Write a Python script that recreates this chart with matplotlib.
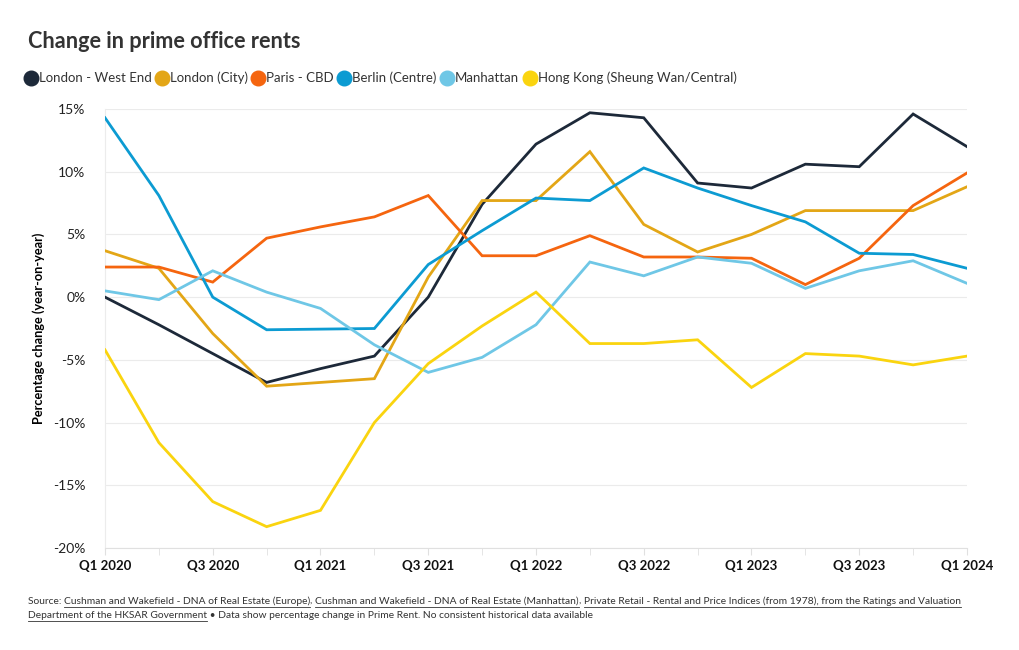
import matplotlib
matplotlib.use("Agg")
import matplotlib.pyplot as plt
from matplotlib.lines import Line2D

quarters = ["Q1 2020", "Q2 2020", "Q3 2020", "Q4 2020", "Q1 2021", "Q2 2021", "Q3 2021", "Q4 2021",
            "Q1 2022", "Q2 2022", "Q3 2022", "Q4 2022", "Q1 2023", "Q2 2023", "Q3 2023", "Q4 2023", "Q1 2024"]

london_west_end = [0.0, -2.2, -4.5, -6.8, -5.7, -4.7, 0.0, 7.4, 12.2, 14.7, 14.3, 9.1, 8.7, 10.6, 10.4, 14.6, 12.0]
london_city = [3.7, 2.3, -2.9, -7.1, -6.8, -6.5, 1.6, 7.7, 7.7, 11.6, 5.8, 3.6, 5.0, 6.9, 6.9, 6.9, 8.8]
paris_cbd = [2.4, 2.4, 1.2, 4.7, 5.6, 6.4, 8.1, 3.3, 3.3, 4.9, 3.2, 3.2, 3.1, 1.0, 3.1, 7.3, 9.9]
berlin = [14.3, 8.1, 0.0, -2.6, -2.55, -2.5, 2.6, 5.3, 7.9, 7.7, 10.3, 8.7, 7.3, 6.0, 3.5, 3.4, 2.3]
manhattan = [0.5, -0.2, 2.1, 0.4, -0.9, -3.8, -6.0, -4.8, -2.2, 2.8, 1.7, 3.2, 2.7, 0.7, 2.1, 2.9, 1.1]
hong_kong = [-4.2, -11.6, -16.3, -18.3, -17.0, -10.0, -5.3, -2.3, 0.4, -3.7, -3.7, -3.4, -7.2, -4.5, -4.7, -5.4, -4.7]

series_names = ["London - West End", "London (City)", "Paris - CBD", "Berlin (Centre)", "Manhattan",
                "Hong Kong (Sheung Wan/Central)"]
series_values = [london_west_end, london_city, paris_cbd, berlin, manhattan, hong_kong]
colors = ["#1d2939", "#e3a616", "#f5650f", "#0c9bd2", "#6fc7e6", "#fad40f"]

y_ticks = [-20, -15, -10, -5, 0, 5, 10, 15]
y_tick_labels = ["-20%", "-15%", "-10%", "-5%", "0%", "5%", "10%", "15%"]

FONT = "Lato"
plt.rcParams["font.family"] = [FONT, "DejaVu Sans"]

fig = plt.figure(figsize=(10.2, 6.5), dpi=100)
W, H = 1020, 650
ax = fig.add_axes([105 / W, 1 - 548 / H, (967 - 105) / W, (548 - 109) / H])

x = list(range(len(quarters)))
for vals, c in zip(series_values, colors):
    ax.plot(x, vals, color=c, lw=2.0, solid_joinstyle="miter", zorder=3)

ax.set_xlim(0, len(quarters) - 1)
ax.set_ylim(-20, 15)
ax.set_yticks(y_ticks)
ax.set_yticklabels(y_tick_labels, fontsize=10, color="#222222")
ax.set_xticks(x[::2])
ax.set_xticklabels(quarters[::2], fontsize=9.5, fontweight="bold", color="#111111")
ax.set_xticks(x, minor=True)
ax.tick_params(axis="y", length=0, pad=14)
ax.tick_params(axis="x", which="both", length=5, color="#e0e0e0", pad=4)
ax.grid(axis="y", color="#ebebeb", lw=0.8)
ax.grid(axis="x", which="major", visible=False)
for s in ["top", "right"]:
    ax.spines[s].set_visible(False)
ax.spines["left"].set_color("#ececec")
ax.spines["bottom"].set_color("#e0e0e0")
ax.set_axisbelow(True)
ax.set_ylabel("Percentage change (year-on-year)", fontsize=9.2, fontweight="bold", labelpad=10)
ax.yaxis.set_label_coords(-60 / 862, 0.5)

fig.text(28 / W, 1 - 42 / H, "Change in prime office rents", fontsize=15.6, fontweight="bold",
         color="#333333", va="center", ha="left")

handles = [Line2D([], [], marker="o", ls="none", markersize=10.5, color=c) for c in colors]
fig.legend(handles, series_names, loc="center left", bbox_to_anchor=(24 / W, 1 - 78 / H), ncol=6,
           frameon=False, fontsize=9.5, handletextpad=0.1, columnspacing=0.3, handlelength=1.0,
           borderaxespad=0, borderpad=0, labelcolor="#333333")

# footer with underlined source links
fig.canvas.draw()
renderer = fig.canvas.get_renderer()
fs = 7.4
col = "#333333"
lines = [
    [("Source: ", False), ("Cushman and Wakefield - DNA of Real Estate (Europe)", True), (", ", False),
     ("Cushman and Wakefield - DNA of Real Estate (Manhattan)", True), (", ", False),
     ("Private Retail - Rental and Price Indices (from 1978), from the Ratings and Valuation", True)],
    [("Department of the HKSAR Government", True),
     (" \u2022 Data show percentage change in Prime Rent. No consistent historical data available", False)],
]
ys = [601, 615]
for parts, ypx in zip(lines, ys):
    xpx = 28
    for txt, under in parts:
        t = fig.text(xpx / W, 1 - ypx / H, txt, fontsize=fs, color=col, va="center", ha="left")
        bb = t.get_window_extent(renderer)
        if under:
            yl = 1 - (ypx + 6) / H
            fig.add_artist(Line2D([xpx / W, (xpx + bb.width) / W], [yl, yl], color=col, lw=0.6))
        xpx += bb.width

fig.savefig("out.png", dpi=100, facecolor="white")
